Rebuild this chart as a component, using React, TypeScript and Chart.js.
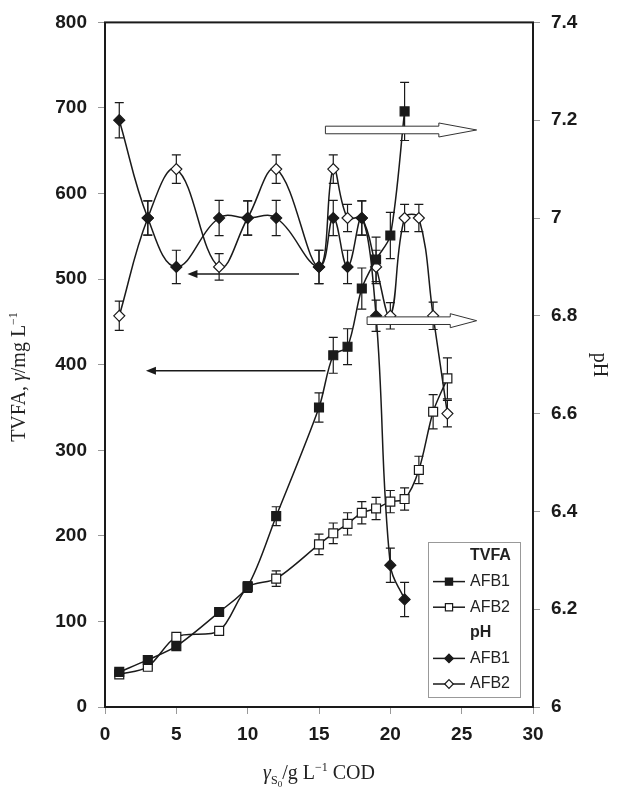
import React, { useEffect, useRef } from 'react';
import { Chart, registerables } from 'chart.js';
Chart.register(...registerables);

// ---- data ----
const tvfaX1 = [1, 3, 5, 8, 10, 12, 15, 16, 17, 18, 19, 20, 21];
const tvfaAFB1 = [41, 55, 71, 111, 141, 223, 350, 411, 421, 489, 523, 551, 696];
const tvfaAFB1Err = [2, 2, 2, 3, 5, 11, 17, 21, 21, 24, 26, 27, 34];

const tvfaX2 = [1, 3, 5, 8, 10, 12, 15, 16, 17, 18, 19, 20, 21, 22, 23, 24];
const tvfaAFB2 = [38, 47, 82, 89, 140, 150, 190, 203, 214, 227, 232, 240, 243, 277, 345, 384];
const tvfaAFB2Err = [2, 2, 2, 2, 6, 9, 12, 12, 13, 13, 13, 13, 13, 16, 20, 24];

const phX1 = [1, 3, 5, 8, 10, 12, 15, 16, 17, 18, 19, 20, 21];
const phAFB1 = [7.2, 7.0, 6.9, 7.0, 7.0, 7.0, 6.9, 7.0, 6.9, 7.0, 6.8, 6.29, 6.22];
const phAFB1Err = [0.036, 0.035, 0.034, 0.036, 0.035, 0.036, 0.034, 0.036, 0.034, 0.035, 0.032, 0.035, 0.035];

const phX2 = [1, 3, 5, 8, 10, 12, 15, 16, 17, 18, 19, 20, 21, 22, 23, 24];
const phAFB2 = [6.8, 7.0, 7.1, 6.9, 7.0, 7.1, 6.9, 7.1, 7.0, 7.0, 6.9, 6.8, 7.0, 7.0, 6.8, 6.6];
const phAFB2Err = [0.03, 0.035, 0.029, 0.027, 0.035, 0.029, 0.034, 0.029, 0.028, 0.035, 0.034, 0.027, 0.028, 0.028, 0.028, 0.027];

const xTickMin = 0, xTickMax = 30, xTickStep = 5;
const yTickMin = 0, yTickMax = 800, yTickStep = 100;
const y1TickMin = 6, y1TickMax = 7.4, y1TickStep = 0.2;

// annotation arrows (data units)
const blockArrowsPH = [
  { from: 15.45, headStart: 23.4, to: 26.05, ph: 7.18 },
  { from: 18.37, headStart: 24.2, to: 26.05, ph: 6.79 },
];
const lineArrowsTVFA = [
  { from: 13.6, to: 5.78, tvfa: 506 },
  { from: 15.45, to: 2.87, tvfa: 393 },
];

const SERIF = '"Liberation Serif", "DejaVu Serif", serif';
const SANS = '"Liberation Sans", Arial, sans-serif';
const INK = '#1a1a1a';

type Part = { t: string; size?: number; italic?: boolean; bold?: boolean; dy?: number; family?: string };

function fontOf(p: Part, base: number, fam: string) {
  return `${p.italic ? 'italic ' : ''}${p.bold ? 'bold ' : ''}${p.size || base}px ${p.family || fam}`;
}
function richWidth(ctx: CanvasRenderingContext2D, parts: Part[], base: number, fam: string) {
  let w = 0;
  for (const p of parts) { ctx.font = fontOf(p, base, fam); w += ctx.measureText(p.t).width; }
  return w;
}
function drawRich(ctx: CanvasRenderingContext2D, parts: Part[], cx: number, by: number, base: number, fam: string) {
  const w = richWidth(ctx, parts, base, fam);
  let x = cx - w / 2;
  ctx.textAlign = 'left';
  ctx.textBaseline = 'alphabetic';
  for (const p of parts) {
    ctx.font = fontOf(p, base, fam);
    ctx.fillText(p.t, x, by + (p.dy || 0));
    x += ctx.measureText(p.t).width;
  }
}

function drawMarker(ctx: CanvasRenderingContext2D, style: string, x: number, y: number, r: number, filled: boolean) {
  ctx.beginPath();
  if (style === 'rect') {
    ctx.rect(x - r, y - r, 2 * r, 2 * r);
  } else {
    ctx.moveTo(x, y - r);
    ctx.lineTo(x + r, y);
    ctx.lineTo(x, y + r);
    ctx.lineTo(x - r, y);
    ctx.closePath();
  }
  ctx.fillStyle = filled ? INK : '#fff';
  ctx.fill();
  ctx.lineWidth = 1.2;
  ctx.strokeStyle = INK;
  ctx.stroke();
}

const errorBarPlugin = {
  id: 'errorBars',
  beforeDatasetsDraw(chart: any) {
    const ctx = chart.ctx;
    ctx.save();
    ctx.strokeStyle = INK;
    ctx.lineWidth = 1.2;
    chart.data.datasets.forEach((ds: any, i: number) => {
      const meta = chart.getDatasetMeta(i);
      const ys = chart.scales[ds.yAxisID];
      ds.data.forEach((pt: any, j: number) => {
        const e = ds.err[j];
        const el = meta.data[j];
        const x = el.x;
        const yt = ys.getPixelForValue(pt.y + e);
        const yb = ys.getPixelForValue(pt.y - e);
        ctx.beginPath();
        ctx.moveTo(x, yt); ctx.lineTo(x, yb);
        ctx.moveTo(x - 4.5, yt); ctx.lineTo(x + 4.5, yt);
        ctx.moveTo(x - 4.5, yb); ctx.lineTo(x + 4.5, yb);
        ctx.stroke();
      });
    });
    ctx.restore();
  },
};

const decorPlugin = {
  id: 'decor',
  afterDatasetsDraw(chart: any) {
    const ctx = chart.ctx;
    const xs = chart.scales.x, ys = chart.scales.y, y1 = chart.scales.y1;
    ctx.save();
    // block arrows
    for (const a of blockArrowsPH) {
      const x0 = xs.getPixelForValue(a.from);
      const xh = xs.getPixelForValue(a.headStart);
      const xt = xs.getPixelForValue(a.to);
      const yc = y1.getPixelForValue(a.ph);
      const sh = 3.8, hh = 7;
      ctx.beginPath();
      ctx.moveTo(x0, yc - sh);
      ctx.lineTo(xh, yc - sh);
      ctx.lineTo(xh, yc - hh);
      ctx.lineTo(xt, yc);
      ctx.lineTo(xh, yc + hh);
      ctx.lineTo(xh, yc + sh);
      ctx.lineTo(x0, yc + sh);
      ctx.closePath();
      ctx.fillStyle = '#fff';
      ctx.fill();
      ctx.lineWidth = 1;
      ctx.strokeStyle = '#333';
      ctx.stroke();
    }
    // line arrows
    for (const a of lineArrowsTVFA) {
      const x0 = xs.getPixelForValue(a.from);
      const xt = xs.getPixelForValue(a.to);
      const yc = ys.getPixelForValue(a.tvfa);
      ctx.beginPath();
      ctx.moveTo(x0, yc);
      ctx.lineTo(xt + 9, yc);
      ctx.lineWidth = 1.5;
      ctx.strokeStyle = INK;
      ctx.stroke();
      ctx.beginPath();
      ctx.moveTo(xt, yc);
      ctx.lineTo(xt + 10, yc - 4);
      ctx.lineTo(xt + 10, yc + 4);
      ctx.closePath();
      ctx.fillStyle = INK;
      ctx.fill();
    }
    ctx.restore();
  },
  afterDraw(chart: any) {
    const ctx = chart.ctx;
    const ca = chart.chartArea;
    ctx.save();
    // frame
    ctx.strokeStyle = INK;
    ctx.lineWidth = 2;
    ctx.strokeRect(ca.left, ca.top, ca.right - ca.left, ca.bottom - ca.top);

    // titles
    ctx.fillStyle = '#222';
    drawRich(ctx, [
      { t: 'γ', italic: true },
      { t: 'S', size: 12, dy: 5 },
      { t: '0', size: 9, dy: 8 },
      { t: '/g L' },
      { t: '−1', size: 12, dy: -8 },
      { t: ' COD' },
    ], (ca.left + ca.right) / 2, 779, 20, SERIF);

    ctx.save();
    ctx.translate(25, 377);
    ctx.rotate(-Math.PI / 2);
    drawRich(ctx, [
      { t: 'TVFA, ' },
      { t: 'γ', italic: true },
      { t: '/mg L' },
      { t: '−1', size: 12, dy: -8 },
    ], 0, 0, 20, SERIF);
    ctx.restore();

    ctx.save();
    ctx.translate(594, 365);
    ctx.rotate(Math.PI / 2);
    drawRich(ctx, [{ t: 'pH' }], 0, 0, 20, SERIF);
    ctx.restore();

    // legend
    const bw = 92, bh = 155;
    const bx = ca.right - 13 - bw;
    const by = ca.bottom - 10 - bh;
    ctx.fillStyle = '#fff';
    ctx.fillRect(bx, by, bw, bh);
    ctx.strokeStyle = '#999';
    ctx.lineWidth = 1;
    ctx.strokeRect(bx + 0.5, by + 0.5, bw, bh);
    const rows: any[] = [
      { head: 'TVFA' },
      { label: 'AFB1', style: 'rect', filled: true },
      { label: 'AFB2', style: 'rect', filled: false },
      { head: 'pH' },
      { label: 'AFB1', style: 'diamond', filled: true },
      { label: 'AFB2', style: 'diamond', filled: false },
    ];
    rows.forEach((r, k) => {
      const yc = by + 14 + k * 25.6;
      ctx.textBaseline = 'middle';
      ctx.textAlign = 'left';
      ctx.fillStyle = '#222';
      if (r.head) {
        ctx.font = `bold 16px ${SANS}`;
        ctx.fillText(r.head, bx + 42, yc);
      } else {
        ctx.beginPath();
        ctx.moveTo(bx + 5, yc); ctx.lineTo(bx + 37, yc);
        ctx.strokeStyle = INK; ctx.lineWidth = 1.5; ctx.stroke();
        drawMarker(ctx, r.style, bx + 21, yc, r.style === 'rect' ? 3.6 : 4.3, r.filled);
        ctx.fillStyle = '#222';
        ctx.font = `16px ${SANS}`;
        ctx.fillText(r.label, bx + 42, yc);
      }
    });
    ctx.restore();
  },
};

function pts(xs: number[], ys: number[]) {
  return xs.map((x, i) => ({ x, y: ys[i] }));
}

export default function App() {
  const ref = useRef<HTMLCanvasElement | null>(null);
  useEffect(() => {
    const canvas = ref.current!;
    const tickFont = { family: SANS, size: 19, weight: 'bold' as const };
    const tickGrid = { display: true, drawOnChartArea: false, drawTicks: true, tickLength: 7, color: '#999', lineWidth: 1 };
    const lineBase = { borderColor: INK, borderWidth: 1.5, tension: 0.4, fill: false, pointBorderColor: INK, pointBorderWidth: 1.2, clip: false as any };
    const chart = new Chart(canvas, {
      type: 'line',
      data: {
        datasets: [
          { ...lineBase, label: 'TVFA AFB1', data: pts(tvfaX1, tvfaAFB1), err: tvfaAFB1Err, yAxisID: 'y', pointStyle: 'rect', pointRadius: 6.3, pointBackgroundColor: INK, tension: 0.3 } as any,
          { ...lineBase, label: 'TVFA AFB2', data: pts(tvfaX2, tvfaAFB2), err: tvfaAFB2Err, yAxisID: 'y', pointStyle: 'rect', pointRadius: 6.3, pointBackgroundColor: '#fff', tension: 0.3 } as any,
          { ...lineBase, label: 'pH AFB1', data: pts(phX1, phAFB1), err: phAFB1Err, yAxisID: 'y1', pointStyle: 'rectRot', pointRadius: 5.5, pointBackgroundColor: INK } as any,
          { ...lineBase, label: 'pH AFB2', data: pts(phX2, phAFB2), err: phAFB2Err, yAxisID: 'y1', pointStyle: 'rectRot', pointRadius: 5.5, pointBackgroundColor: '#fff' } as any,
        ],
      },
      options: {
        responsive: false,
        animation: false,
        devicePixelRatio: 1,
        layout: { padding: { top: 18, left: 0, right: 0, bottom: 0 } },
        plugins: { legend: { display: false }, tooltip: { enabled: false } },
        scales: {
          x: {
            type: 'linear', min: xTickMin, max: xTickMax,
            ticks: { stepSize: xTickStep, font: tickFont, color: '#1a1a1a', padding: 9, maxRotation: 0 },
            grid: tickGrid, border: { display: false },
            afterFit: (s: any) => { s.height = 80; },
          },
          y: {
            type: 'linear', position: 'left', min: yTickMin, max: yTickMax,
            ticks: { stepSize: yTickStep, font: tickFont, color: '#1a1a1a', padding: 11 },
            grid: tickGrid, border: { display: false },
            afterFit: (s: any) => { s.width = 105; },
          },
          y1: {
            type: 'linear', position: 'right', min: y1TickMin, max: y1TickMax,
            ticks: {
              stepSize: y1TickStep, font: tickFont, color: '#1a1a1a', padding: 11,
              callback: (v: any) => String(parseFloat(Number(v).toFixed(1))),
            },
            grid: tickGrid, border: { display: false },
            afterFit: (s: any) => { s.width = 89; },
          },
        },
      } as any,
      plugins: [errorBarPlugin, decorPlugin],
    });
    return () => chart.destroy();
  }, []);
  return (
    <div style={{ position: 'fixed', left: 0, top: 0, width: 622, height: 787, background: '#fff' }}>
      <canvas ref={ref} width={622} height={787} />
    </div>
  );
}
